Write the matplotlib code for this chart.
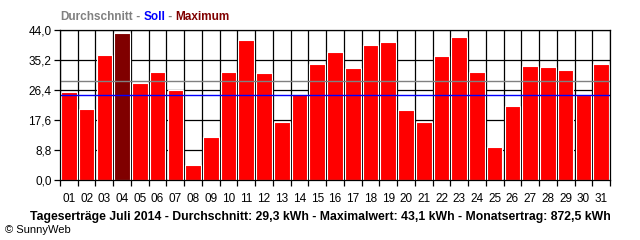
import matplotlib
matplotlib.use("Agg")
import matplotlib.pyplot as plt
import numpy as np

plt.rcParams['font.family'] = ['Liberation Sans', 'DejaVu Sans']

days = [f"{d:02d}" for d in range(1, 32)]
values = [25.8, 20.8, 36.7, 43.1, 28.5, 31.7, 26.4, 4.4, 12.6, 31.7,
          41.1, 31.4, 17.0, 25.2, 34.0, 37.5, 32.9, 39.6, 40.5, 20.5,
          17.0, 36.4, 41.9, 31.7, 9.7, 21.7, 33.4, 33.1, 32.3, 24.9, 34.0]
avg_line = 28.9
soll_line = 24.8
yticks = [0.0, 8.8, 17.6, 26.4, 35.2, 44.0]
ytick_labels = ["0,0", "8,8", "17,6", "26,4", "35,2", "44,0"]

fig = plt.figure(figsize=(6.4, 2.4), dpi=100)
ax = fig.add_axes([60/640, 1-180/240, 550/640, 150/240])

x = np.arange(len(values))
maxi = int(np.argmax(values))
colors = ["#800000" if i == maxi else "#FF0000" for i in range(len(values))]
ax.bar(x, values, width=0.88, color=colors, edgecolor="white", linewidth=0.8, zorder=3)

ax.axhline(avg_line, color="#808080", linewidth=1.0, zorder=4)
ax.axhline(soll_line, color="#0000FF", linewidth=1.0, zorder=4)

ax.set_xlim(-0.5, len(values) - 0.5)
ax.set_ylim(0, 44)
ax.set_yticks(yticks)
ax.set_yticklabels(ytick_labels, fontsize=8.5)
ax.set_xticks(x)
ax.set_xticklabels(days, fontsize=8.5)
ax.set_xticks(np.arange(-0.5, len(values)), minor=True)
ax.tick_params(axis="x", which="major", length=0, pad=9)
ax.tick_params(axis="x", which="minor", length=4, width=0.9, color="black")
ax.tick_params(axis="y", which="major", length=4, width=0.9, pad=2)

for yv in yticks:
    ax.axhline(yv, color="black", linewidth=0.9, zorder=1)
for xv in np.arange(-0.5, len(values)):
    ax.axvline(xv, color="black", linewidth=0.9, zorder=1)
for s in ax.spines.values():
    s.set_linewidth(0.9)
    s.set_zorder(5)

# header legend
tx = 60/640
ty = 1 - 17/240
parts = [("Durchschnitt", "#808080"), (" - ", "#808080"), ("Soll", "#0000FF"),
         (" - ", "#808080"), ("Maximum", "#800000")]
renderer = fig.canvas.get_renderer()
cur = tx
for txt, col in parts:
    t = fig.text(cur, ty, txt, color=col, fontsize=8.5, fontweight="bold", va="center", ha="left")
    bb = t.get_window_extent(renderer=renderer)
    cur += bb.width / fig.bbox.width

fig.text(320/640, 1 - 217/240,
         "Tageserträge Juli 2014 - Durchschnitt: 29,3 kWh - Maximalwert: 43,1 kWh - Monatsertrag: 872,5 kWh",
         fontsize=8.8, fontweight="bold", va="center", ha="center")
fig.text(5/640, 1 - 230/240, "© SunnyWeb", fontsize=8, va="center", ha="left")

fig.savefig("out.png", dpi=100, facecolor="white")
